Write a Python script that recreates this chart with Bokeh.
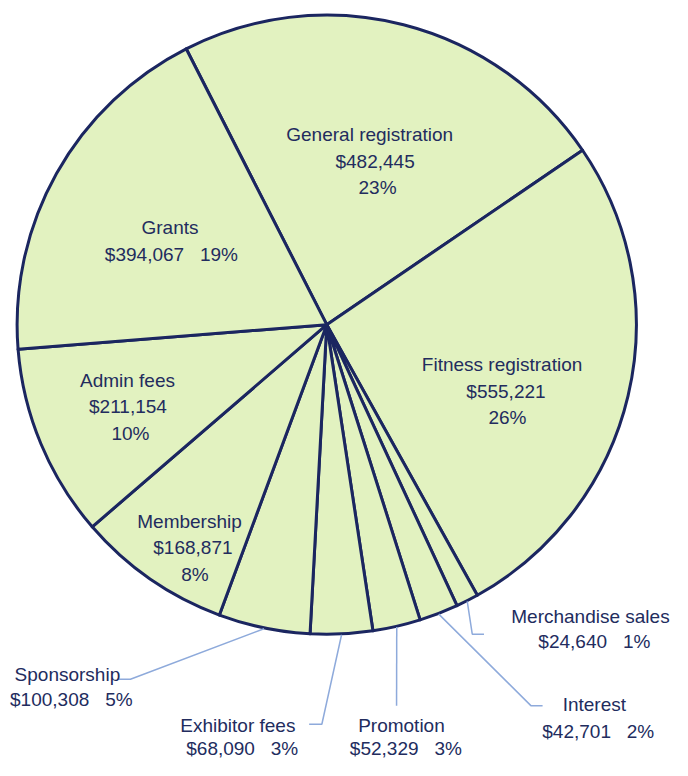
import math
from bokeh.plotting import figure
from bokeh.models import Range1d, ColumnDataSource
from bokeh.core.properties import value
from bokeh.embed import file_html
from bokeh.resources import INLINE

# ---------------- data ----------------
categories = ["General registration", "Fitness registration", "Merchandise sales",
              "Interest", "Promotion", "Exhibitor fees", "Sponsorship",
              "Membership", "Admin fees", "Grants"]
amounts = [482445, 555221, 24640, 42701, 52329, 68090, 100308, 168871, 211154, 394067]
pct_labels = ["23%", "26%", "1%", "2%", "3%", "3%", "5%", "8%", "10%", "19%"]

# ---------------- layout / style ----------------
W, H = 672, 760          # figure size (fits the 688x776 window with its 8px margin)
REF_W, REF_H = 688, 776  # layout units below are in this frame
FILL = "#e2f2c0"
EDGE = "#1b2660"
TEXT = "#222c5e"
LEADER = "#8eaadb"
FONT = "Liberation Sans"
FSIZE = "19px"

def dy(y):
    # layout y (measured from the top) -> data y
    return REF_H - y

CX, CY, R = 334, dy(331), 317
START_DEG = 117.0  # first slice starts here, slices run clockwise

# label layout per category: list of (x, baseline_y, kind)
label_layout = {
    "General registration": [(378, 137, "name"), (383.5, 164, "value"), (386, 191, "pct")],
    "Fitness registration": [(513.5, 372, "name"), (517.5, 399, "value"), (519, 426, "pct")],
    "Merchandise sales":    [(604, 629, "name"), (608, 655, "both")],
    "Interest":             [(608, 719, "name"), (612, 746, "both")],
    "Promotion":            [(410.5, 740, "name"), (415, 764, "both")],
    "Exhibitor fees":       [(243, 740, "name"), (247.5, 764, "both")],
    "Sponsorship":          [(68.5, 688, "name"), (72.5, 714, "both")],
    "Membership":           [(193.5, 532, "name"), (197, 559, "value"), (199, 586, "pct")],
    "Admin fees":           [(130, 388, "name"), (130.5, 415, "value"), (133, 442, "pct")],
    "Grants":               [(173.5, 232, "name"), (175, 259, "both")],
}
# leader line bends (after the point on the rim)
leader_layout = {
    "Merchandise sales": [(483, 647), (495, 647)],
    "Interest":          [(543, 720), (555, 720)],
    "Promotion":         [(405.5, 720)],
    "Exhibitor fees":    [(329, 739), (316, 739)],
    "Sponsorship":       [(133, 693), (120, 693)],
}

# ---------------- geometry from data ----------------
total = float(sum(amounts))
starts, ends, mids = [], [], []
a = math.radians(START_DEG)
for v in amounts:
    sweep = v / total * 2 * math.pi
    starts.append(a)
    ends.append(a - sweep)
    mids.append(a - sweep / 2)
    a -= sweep

p = figure(width=W, height=H, output_backend="svg", toolbar_location=None,
           x_range=Range1d(0, REF_W), y_range=Range1d(0, REF_H),
           min_border=0, outline_line_color=None)
p.axis.visible = False
p.grid.visible = False
p.background_fill_color = "white"
p.border_fill_color = "white"

src = ColumnDataSource(dict(x=[CX] * len(amounts), y=[CY] * len(amounts),
                            s=ends, e=starts, cat=categories))
p.wedge(x="x", y="y", radius=R, start_angle="s", end_angle="e", source=src,
        fill_color=FILL, line_color=EDGE, line_width=3, line_join="round")

# leader lines
xs, ys = [], []
for i, c in enumerate(categories):
    if c in leader_layout:
        px = CX + R * math.cos(mids[i])
        py = CY + R * math.sin(mids[i])
        lx = [px] + [pt[0] for pt in leader_layout[c]]
        ly = [py] + [dy(pt[1]) for pt in leader_layout[c]]
        xs.append(lx)
        ys.append(ly)
p.multi_line(xs=xs, ys=ys, line_color=LEADER, line_width=1.5)

# labels
tx, ty, tt = [], [], []
gap = "\u00a0 \u00a0"
for i, c in enumerate(categories):
    money = "${:,}".format(amounts[i])
    for (x, y, kind) in label_layout[c]:
        if kind == "name":
            s = c
        elif kind == "value":
            s = money
        elif kind == "pct":
            s = pct_labels[i]
        else:
            s = money + gap + pct_labels[i]
        tx.append(x)
        ty.append(dy(y))
        tt.append(s)
p.text(x=tx, y=ty, text=tt, text_align="center", text_baseline="alphabetic",
       text_font=value(FONT), text_font_size=FSIZE, text_color=TEXT)

open("out.html", "w").write(file_html(p, INLINE))
